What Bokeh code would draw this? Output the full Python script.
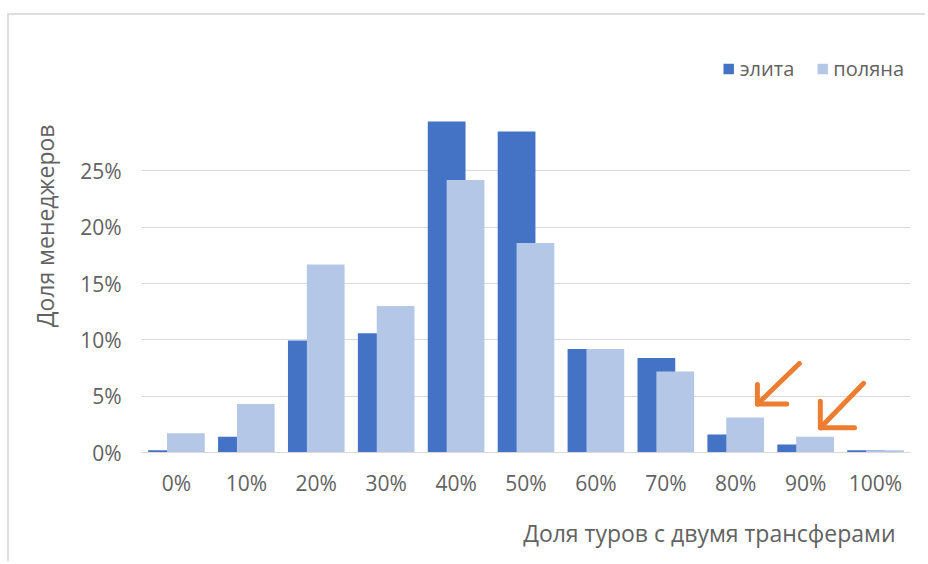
from bokeh.plotting import figure
from bokeh.models import Range1d, FixedTicker, NumeralTickFormatter, Legend, LegendItem, Title, ColumnDataSource
from bokeh.embed import file_html
from bokeh.resources import INLINE

categories = ["0%", "10%", "20%", "30%", "40%", "50%", "60%", "70%", "80%", "90%", "100%"]
elita = [0.002, 0.014, 0.0995, 0.106, 0.294, 0.285, 0.092, 0.084, 0.016, 0.007, 0.002]
polyana = [0.017, 0.043, 0.167, 0.130, 0.242, 0.186, 0.092, 0.072, 0.031, 0.014, 0.002]
y_ticks = [0.0, 0.05, 0.10, 0.15, 0.20, 0.25]

# hand-drawn orange arrows (data coordinates: category index, share)
arrow_shaft_x = [[8.91, 8.31], [9.83, 9.21]]
arrow_shaft_y = [[0.079, 0.043], [0.0614, 0.022]]
arrow_head_x = [[8.31, 8.31, 8.73], [9.21, 9.21, 9.70]]
arrow_head_y = [[0.0605, 0.043, 0.043], [0.0456, 0.022, 0.022]]

DARK = "#4472C4"
LIGHT = "#B4C7E7"
TEXT = "#626262"
GRID = "#D9D9D9"
FONT = "Open Sans"

idx = list(range(len(categories)))
offset = 0.135
bw = 0.54

p = figure(width=918, height=548, output_backend="svg", toolbar_location=None,
           x_range=Range1d(-0.5, 10.5), y_range=Range1d(0, 0.3579),
           min_border_left=130, min_border_right=17, min_border_top=34, min_border_bottom=104)
p.outline_line_color = None
p.margin = (13, 0, 0, 7)
p.styles = {"border-top": "2px solid #DEDEDE", "border-left": "2px solid #DEDEDE"}

src = ColumnDataSource(dict(
    xe=[i - offset for i in idx], xp=[i + offset for i in idx], elita=elita, polyana=polyana))
r1 = p.vbar(x="xe", top="elita", width=bw, source=src, color=DARK, line_color=None)
r2 = p.vbar(x="xp", top="polyana", width=bw, source=src, color=LIGHT, line_color=None)

p.multi_line(arrow_shaft_x, arrow_shaft_y, line_color="#ED7D31", line_width=5, line_cap="round")
p.multi_line(arrow_head_x, arrow_head_y, line_color="#ED7D31", line_width=5, line_cap="round", line_join="round")

# axes
p.xaxis.ticker = FixedTicker(ticks=idx)
p.xaxis.major_label_overrides = {i: c for i, c in zip(idx, categories)}
p.xaxis.axis_line_color = GRID
p.xaxis.major_tick_line_color = None
p.xaxis.minor_tick_line_color = None
p.xaxis.major_label_standoff = 10
p.xaxis.major_label_text_font = FONT
p.xaxis.major_label_text_font_size = "21px"
p.xaxis.major_label_text_color = TEXT

p.yaxis.ticker = FixedTicker(ticks=y_ticks)
p.yaxis.formatter = NumeralTickFormatter(format="0%")
p.yaxis.axis_line_color = None
p.yaxis.major_tick_line_color = None
p.yaxis.minor_tick_line_color = None
p.yaxis.major_label_standoff = 14
p.yaxis.major_label_text_font = FONT
p.yaxis.major_label_text_font_size = "21px"
p.yaxis.major_label_text_color = TEXT

p.xgrid.grid_line_color = None
p.ygrid.ticker = FixedTicker(ticks=y_ticks)
p.ygrid.grid_line_color = GRID
p.ygrid.grid_line_width = 1

# axis titles
p.add_layout(Title(text="Доля менеджеров", align="right", offset=75, standoff=34,
                   text_font=FONT, text_font_size="23px", text_font_style="normal", text_color=TEXT), "left")
p.add_layout(Title(text="Доля туров с двумя трансферами", align="right", offset=15, standoff=30,
                   text_font=FONT, text_font_size="23px", text_font_style="normal", text_color=TEXT), "below")

legend = Legend(items=[LegendItem(label="элита", renderers=[r1]), LegendItem(label="поляна", renderers=[r2])],
                orientation="horizontal", location="top_right", padding=0, margin=6, spacing=21,
                glyph_width=13, glyph_height=13, label_standoff=5,
                label_text_font=FONT, label_text_font_size="20px", label_text_color=TEXT,
                border_line_color=None, background_fill_alpha=0)
p.add_layout(legend)

open("out.html", "w").write(file_html(p, INLINE))
